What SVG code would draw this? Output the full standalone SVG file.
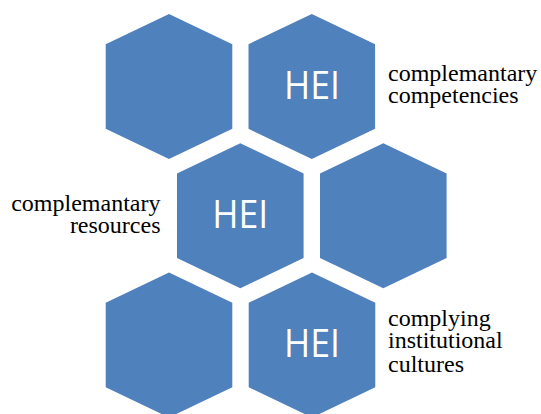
<svg xmlns="http://www.w3.org/2000/svg" xmlns:xlink="http://www.w3.org/1999/xlink" width="541" height="414" viewBox="0 0 541 414">
  <style>
    .hex { fill: #4F81BD; }
    .hei { fill: #FFFFFF; font-family: "Open Sans", "Liberation Sans", sans-serif; font-size: 38px; text-anchor: middle; }
    .lbl { fill: #000000; font-family: "Liberation Serif", "Times New Roman", serif; font-size: 24px; }
  </style>
  <defs>
    <polygon id="hexshape" class="hex" points="0,-72.5 63.3,-42.3 63.3,42.3 0,72.5 -63.3,42.3 -63.3,-42.3"/>
  </defs>
  <rect width="541" height="414" fill="#FFFFFF"/>
  <g id="connectors"></g>
  <g id="hex-top-left">
    <use xlink:href="#hexshape" href="#hexshape" x="169" y="86.5"/>
  </g>
  <g id="hex-top-right">
    <use xlink:href="#hexshape" href="#hexshape" x="311.8" y="86.5"/>
    <text class="hei" x="312" y="99.3" textLength="56" lengthAdjust="spacingAndGlyphs">HEI</text>
  </g>
  <g id="hex-mid-left">
    <use xlink:href="#hexshape" href="#hexshape" x="240.3" y="215.8"/>
    <text class="hei" x="240.3" y="228.3" textLength="56" lengthAdjust="spacingAndGlyphs">HEI</text>
  </g>
  <g id="hex-mid-right">
    <use xlink:href="#hexshape" href="#hexshape" x="383.3" y="215.8"/>
  </g>
  <g id="hex-bottom-left">
    <use xlink:href="#hexshape" href="#hexshape" x="169" y="345"/>
  </g>
  <g id="hex-bottom-right">
    <use xlink:href="#hexshape" href="#hexshape" x="312" y="345"/>
    <text class="hei" x="312" y="356.7" textLength="56" lengthAdjust="spacingAndGlyphs">HEI</text>
  </g>
  <g id="label-competencies">
    <text class="lbl" x="388" y="80.7">complemantary</text>
    <text class="lbl" x="388" y="103.3">competencies</text>
  </g>
  <g id="label-resources">
    <text class="lbl" x="160.5" y="210.7" text-anchor="end">complemantary</text>
    <text class="lbl" x="160.5" y="233.3" text-anchor="end">resources</text>
  </g>
  <g id="label-cultures">
    <text class="lbl" x="388" y="325.7">complying</text>
    <text class="lbl" x="388" y="348.2">institutional</text>
    <text class="lbl" x="388" y="371.7">cultures</text>
  </g>
</svg>
